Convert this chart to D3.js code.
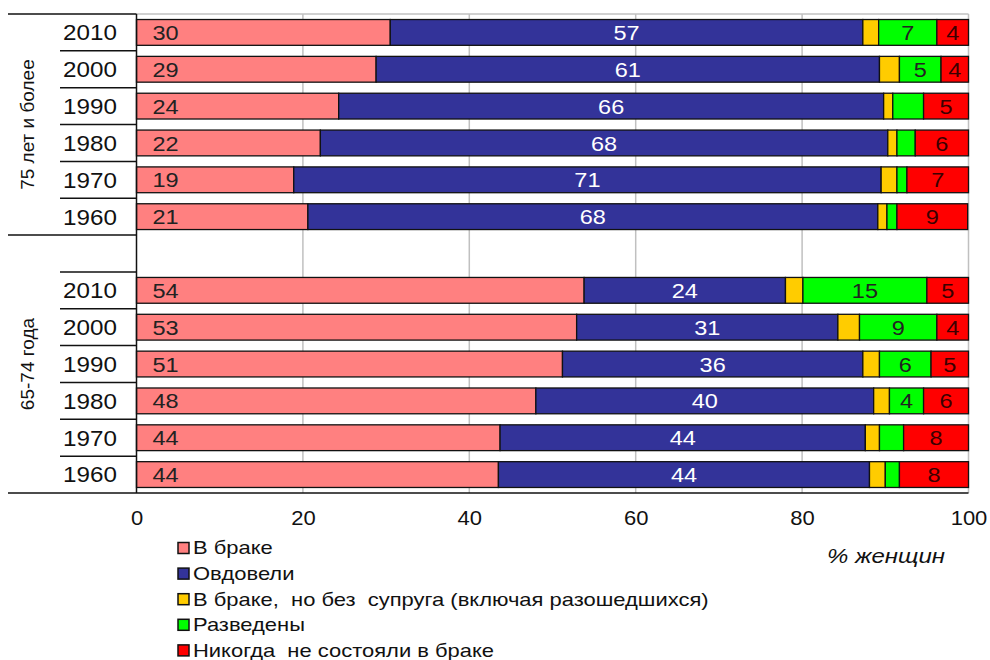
<!DOCTYPE html>
<html><head><meta charset="utf-8">
<script src="https://cdn.jsdelivr.net/npm/d3@7"></script>
<style>body{margin:0;background:#fff}svg{display:block;font-family:"Liberation Sans",Arial,sans-serif}</style>
</head><body><svg id="c" width="990" height="660"></svg>
<script>
// ---- data ----
const groups = ["75 лет и более", "65-74 года"];
const years = ["2010", "2000", "1990", "1980", "1970", "1960"];
const seriesNames = ["В браке", "Овдовели", "В браке,  но без  супруга (включая разошедшихся)", "Разведены", "Никогда  не состояли в браке"];
const seriesColors = ["#FF8080", "#333399", "#FFCC00", "#00FF00", "#FF0000"];
// estimated segment values (% of women), rows ordered 2010..1960
const old_married   = [30.5, 28.8, 24.3, 22.1, 18.9, 20.6];
const old_widowed   = [56.8, 60.5, 65.5, 68.2, 70.6, 68.5];
const old_separated = [1.9, 2.4, 1.1, 1.1, 1.9, 1.1];
const old_divorced  = [7.0, 5.0, 3.7, 2.2, 1.2, 1.2];
const old_never     = [3.8, 3.3, 5.4, 6.4, 7.4, 8.5];
const yng_married   = [53.8, 52.9, 51.2, 48.0, 43.7, 43.5];
const yng_widowed   = [24.2, 31.4, 36.1, 40.6, 43.9, 44.6];
const yng_separated = [2.1, 2.6, 2.0, 1.9, 1.7, 1.9];
const yng_divorced  = [14.9, 9.3, 6.2, 4.1, 2.9, 1.7];
const yng_never     = [5.0, 3.8, 4.5, 5.4, 7.8, 8.3];
// printed labels (null = none)
const old_lbl_married  = ["30", "29", "24", "22", "19", "21"];
const old_lbl_widowed  = ["57", "61", "66", "68", "71", "68"];
const old_lbl_divorced = ["7", "5", null, null, null, null];
const old_lbl_never    = ["4", "4", "5", "6", "7", "9"];
const yng_lbl_married  = ["54", "53", "51", "48", "44", "44"];
const yng_lbl_widowed  = ["24", "31", "36", "40", "44", "44"];
const yng_lbl_divorced = ["15", "9", "6", "4", null, null];
const yng_lbl_never    = ["5", "4", "5", "6", "8", "8"];
const xTicks = [0, 20, 40, 60, 80, 100];
const xTitle = "% женщин";

// ---- build rows ----
const rows = [];
function addGroup(g, vals, lbls) {
  years.forEach((y, i) => {
    rows.push({key: g + "|" + y, group: g, year: y,
      values: vals.map(a => a[i]), labels: lbls.map(a => a ? a[i] : null)});
  });
}
addGroup(groups[0], [old_married, old_widowed, old_separated, old_divorced, old_never],
  [old_lbl_married, old_lbl_widowed, null, old_lbl_divorced, old_lbl_never]);
const blankKey = "blank";
addGroup(groups[1], [yng_married, yng_widowed, yng_separated, yng_divorced, yng_never],
  [yng_lbl_married, yng_lbl_widowed, null, yng_lbl_divorced, yng_lbl_never]);
const domainKeys = rows.slice(0, 6).map(r => r.key).concat([blankKey], rows.slice(6).map(r => r.key));

const svg = d3.select("#c");
const L = 136.5, R = 968.5, T = 14, B = 493;
const x = d3.scaleLinear().domain([0, 100]).range([L, R]);
const y = d3.scaleBand().domain(domainKeys).range([T, B]).paddingInner(0.3).paddingOuter(0.15);

// helper: text at (px,py) horizontally stretched by sx
function txt(parent, px, py, s, size, sx, anchor, fill) {
  return parent.append("text")
    .attr("transform", `translate(${px},${py}) scale(${sx},1)`)
    .attr("dy", "0.36em").attr("text-anchor", anchor)
    .attr("font-size", size).attr("fill", fill).style("white-space", "pre").text(s);
}

// gridlines
svg.append("g").selectAll("line").data(xTicks.slice(1)).join("line")
  .attr("x1", d => x(d)).attr("x2", d => x(d)).attr("y1", T).attr("y2", B)
  .attr("stroke", "#c0c0c0").attr("stroke-width", 1.5);
svg.append("line").attr("x1", L).attr("x2", R).attr("y1", T).attr("y2", T)
  .attr("stroke", "#c0c0c0").attr("stroke-width", 1.5);

// bars
const segG = svg.append("g");
rows.forEach(r => {
  let acc = 0;
  const yy = y(r.key), h = y.bandwidth();
  r.values.forEach((v, j) => {
    const x0 = x(acc), x1 = x(acc + v);
    segG.append("rect").attr("x", x0).attr("y", yy).attr("width", x1 - x0).attr("height", h)
      .attr("fill", seriesColors[j]).attr("stroke", "#111").attr("stroke-width", 1.3);
    const lb = r.labels[j];
    if (lb) {
      const fill = j === 1 ? "#fff" : (j === 4 ? "#3a0000" : "#222");
      if (j === 0) txt(segG, x(0) + 16, yy + h / 2, lb, 21, 1.12, "start", fill);
      else txt(segG, (x0 + x1) / 2, yy + h / 2, lb, 21, 1.12, "middle", fill);
    }
    acc += v;
  });
});

// category axis structure
const yTop = k => y(k) - y.step() * y.paddingInner() / 2;
svg.append("line").attr("x1", L).attr("x2", L).attr("y1", T).attr("y2", B).attr("stroke", "#111").attr("stroke-width", 1.5);
svg.append("line").attr("x1", 8).attr("x2", R).attr("y1", B).attr("y2", B).attr("stroke", "#111").attr("stroke-width", 1.5);
svg.append("line").attr("x1", 8).attr("x2", L).attr("y1", T).attr("y2", T).attr("stroke", "#111").attr("stroke-width", 1.5);
svg.append("line").attr("x1", 8).attr("x2", L).attr("y1", yTop(blankKey)).attr("y2", yTop(blankKey)).attr("stroke", "#111").attr("stroke-width", 1.5);
const sepKeys = domainKeys.filter((k, i) => i !== 0 && k !== blankKey);
svg.append("g").selectAll("line").data(sepKeys).join("line")
  .attr("x1", 60).attr("x2", L).attr("y1", k => yTop(k)).attr("y2", k => yTop(k))
  .attr("stroke", "#111").attr("stroke-width", 1.5);
const yearG = svg.append("g");
rows.forEach(r => txt(yearG, 90, y(r.key) + y.bandwidth() / 2, r.year, 22, 1.1, "middle", "#111"));
// group labels
const g1c = (T + yTop(blankKey)) / 2, g2c = (yTop(blankKey) + B) / 2;
[[groups[0], g1c], [groups[1], g2c]].forEach(([t, c]) => {
  svg.append("text").attr("transform", `translate(27,${c}) rotate(-90)`).attr("dy", "0.36em")
    .attr("text-anchor", "middle").attr("font-size", 19).attr("fill", "#111").text(t);
});

// x axis
const xa = svg.append("g").attr("transform", `translate(0,${B})`)
  .call(d3.axisBottom(x).tickValues(xTicks).tickSize(0).tickPadding(18).tickFormat(d3.format("d")));
xa.select(".domain").remove();
xa.selectAll("text").attr("font-size", 20).attr("fill", "#111")
  .attr("font-family", "Liberation Sans, Arial, sans-serif").attr("transform", "scale(1.1,1)");
svg.append("text").attr("transform", "translate(886,556) scale(1.2,1)").attr("dy", "0.36em")
  .attr("text-anchor", "middle").attr("font-size", 20).attr("font-style", "italic").attr("fill", "#111").text(xTitle);

// legend
const lg = svg.append("g");
seriesNames.forEach((n, i) => {
  const cy = 548 + i * 25.6;
  lg.append("rect").attr("x", 178).attr("y", cy - 5.5).attr("width", 11).attr("height", 11)
    .attr("fill", seriesColors[i]).attr("stroke", "#111").attr("stroke-width", 1.5);
  txt(lg, 193, cy, n, 18, 1.22, "start", "#111");
});
</script></body></html>
